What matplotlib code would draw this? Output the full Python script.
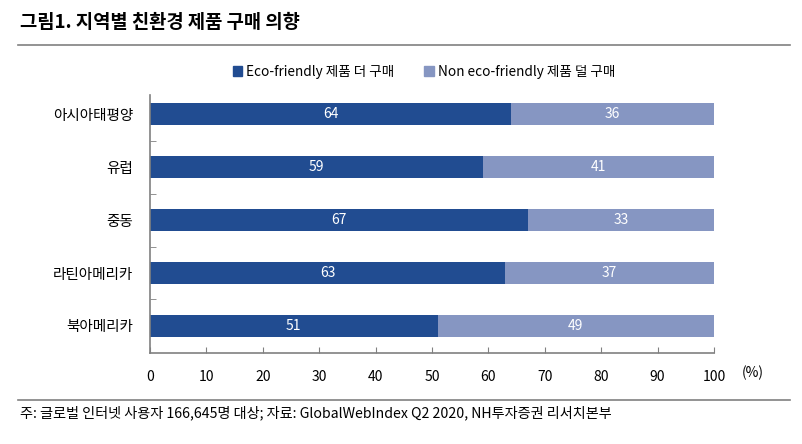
import matplotlib
matplotlib.use('Agg')
import matplotlib.pyplot as plt
from matplotlib.lines import Line2D
from matplotlib.patches import Patch

plt.rcParams['font.family'] = ['Noto Sans CJK KR', 'DejaVu Sans']

regions = ['아시아태평양', '유럽', '중동', '라틴아메리카', '북아메리카']
eco = [64, 59, 67, 63, 51]
non_eco = [36, 41, 33, 37, 49]
series_names = ['Eco-friendly 제품 더 구매', 'Non eco-friendly 제품 덜 구매']
xticks = [0, 10, 20, 30, 40, 50, 60, 70, 80, 90, 100]

dark = '#214C91'
light = '#8696C2'

fig = plt.figure(figsize=(8.02, 4.44), dpi=100)
ax = fig.add_axes([150 / 802, 1 - 353 / 444, 564 / 802, 258 / 444])

ypos = list(range(len(regions) - 1, -1, -1))
ax.barh(ypos, eco, height=0.42, color=dark)
ax.barh(ypos, non_eco, left=eco, height=0.42, color=light)

for y, a, b in zip(ypos, eco, non_eco):
    ax.text(a / 2, y, str(a), ha='center', va='center', color='white', fontsize=10)
    ax.text(a + b / 2, y, str(b), ha='center', va='center', color='white', fontsize=10)

ax.set_xlim(0, 100)
ax.set_ylim(-0.51, 4.36)
ax.set_xticks(xticks)
ax.set_xticklabels([str(t) for t in xticks], fontsize=10)
ax.set_yticks(ypos)
ax.set_yticklabels(regions, fontsize=10.5)
ax.set_yticks([0.5, 1.5, 2.5, 3.5], minor=True)
ax.tick_params(axis='y', which='major', length=0, pad=12)
ax.tick_params(axis='y', which='minor', length=4, direction='in', color='#808080')
ax.tick_params(axis='x', length=4, direction='in', color='#808080', pad=12)
for s in ['top', 'right']:
    ax.spines[s].set_visible(False)
for s in ['left', 'bottom']:
    ax.spines[s].set_color('#808080')
    ax.spines[s].set_linewidth(1.2)
ax.text(1.068, -0.076, '(%)', transform=ax.transAxes, ha='center', va='center', fontsize=10)

handles = [Patch(color=dark), Patch(color=light)]
ax.legend(handles, series_names, loc='center', bbox_to_anchor=(424 / 802, 1 - 72 / 444),
          bbox_transform=fig.transFigure, ncol=2, frameon=False, fontsize=9.8,
          handlelength=0.7, handleheight=0.7, handletextpad=0.3, columnspacing=2.2)

fig.text(20 / 802, 1 - 22 / 444, '그림1. 지역별 친환경 제품 구매 의향', fontsize=13.5,
         fontweight='bold', ha='left', va='center')
fig.add_artist(Line2D([18 / 802, 790 / 802], [1 - 45 / 444] * 2, color='#808080', lw=1.2))
fig.add_artist(Line2D([18 / 802, 790 / 802], [1 - 400 / 444] * 2, color='#808080', lw=1.2))
fig.text(20 / 802, 1 - 413 / 444,
         '주: 글로벌 인터넷 사용자 166,645명 대상; 자료: GlobalWebIndex Q2 2020, NH투자증권 리서치본부',
         fontsize=10.2, ha='left', va='center')

fig.savefig('out.png', dpi=100)
